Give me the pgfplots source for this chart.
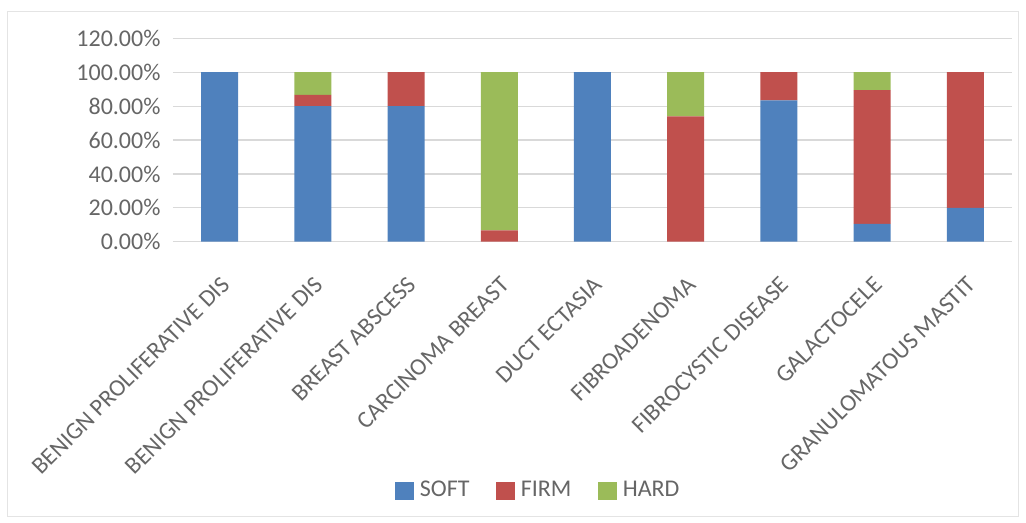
\documentclass[border=0pt]{standalone}
\usepackage{pgfplots}
\pgfplotsset{compat=1.18}
\usepackage{fontspec}
\setmainfont{Carlito}
\definecolor{cSoft}{HTML}{4F81BD}
\definecolor{cFirm}{HTML}{C0504D}
\definecolor{cHard}{HTML}{9BBB59}
\definecolor{txt}{HTML}{666666}
\definecolor{grd}{HTML}{D9D9D9}
\begin{document}
\fontsize{18pt}{21pt}\selectfont
\begin{tikzpicture}
\useasboundingbox (-129.75pt,-210.2pt) rectangle (639.75pt,181.3pt);
\draw[grd!70,line width=0.75pt] (-123.75pt,-205.7pt) rectangle (633.75pt,173.05pt);
\begin{axis}[
  at={(0pt,0pt)}, anchor=south west,
  scale only axis, width=629.25pt, height=152.55pt,
  ybar stacked, bar width=27.75pt,
  xmin=-0.5, xmax=8.5, ymin=0, ymax=120,
  xtick=data,
  xticklabels={BENIGN PROLIFERATIVE DIS,BENIGN PROLIFERATIVE DIS,BREAST ABSCESS,CARCINOMA BREAST,DUCT ECTASIA,FIBROADENOMA,FIBROCYSTIC DISEASE,GALACTOCELE,GRANULOMATOUS MASTIT},
  ytick={0,20,40,60,80,100,120},
  yticklabel={\pgfmathprintnumber[fixed,fixed zerofill,precision=2]{\tick}\%},
  /pgf/number format/assume math mode=true,
  ymajorgrids, major grid style={draw=grd,line width=0.9pt},
  axis line style={draw=none},
  major tick length=0pt,
  tick label style={font=\fontsize{18pt}{21pt}\selectfont, text=txt},
  xticklabel style={xshift=4.5pt, yshift=-29.25pt, rotate=45, anchor=east, inner sep=0pt},
  yticklabel style={anchor=east, inner sep=0pt, xshift=-9.2pt},
  legend style={at={(0.2646,-1.2255)}, anchor=west, draw=none, inner sep=0pt,
    font=\fontsize{18pt}{21pt}\selectfont, text=txt,
    legend columns=-1,
    nodes={inner sep=0pt},
    /tikz/every odd column/.append style={column sep=4.5pt},
    /tikz/every even column/.append style={column sep=20pt}},
  legend image code/.code={\fill[#1] (0pt,-7pt) rectangle (14pt,7pt);},
]
\addplot[fill=cSoft, draw=none] coordinates {(0,100) (1,80) (2,80) (3,0) (4,100) (5,0) (6,83.33) (7,10.53) (8,20)};
\addplot[fill=cFirm, draw=none] coordinates {(0,0) (1,6.67) (2,20) (3,6.67) (4,0) (5,74) (6,16.67) (7,78.95) (8,80)};
\addplot[fill=cHard, draw=none] coordinates {(0,0) (1,13.33) (2,0) (3,93.33) (4,0) (5,26) (6,0) (7,10.53) (8,0)};
\legend{SOFT,FIRM,HARD}
\end{axis}
\end{tikzpicture}
\end{document}
